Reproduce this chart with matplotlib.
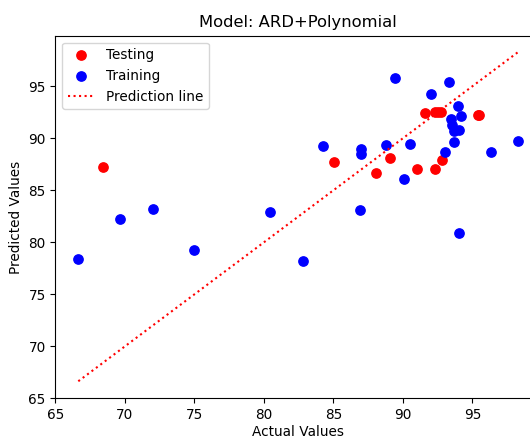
import matplotlib
matplotlib.use("Agg")
import matplotlib.pyplot as plt

# testing set (red)
test_actual = [68.44, 85.01, 88.07, 89.05, 91.02, 91.57, 92.30, 92.50, 92.70, 92.28, 92.80, 95.40, 95.48]
test_pred = [87.23, 87.68, 86.66, 88.10, 87.05, 92.40, 92.49, 92.49, 92.49, 87.05, 87.90, 92.24, 92.24]

# training set (blue)
train_actual = [66.64, 69.65, 72.00, 75.00, 80.40, 82.82, 84.22, 86.99, 86.99, 86.89,
                88.81, 89.41, 90.04, 90.54, 92.03, 92.99, 93.30, 93.95, 94.21, 93.42,
                93.54, 93.66, 94.02, 93.66, 94.02, 96.35, 98.27]
train_pred = [78.41, 82.19, 83.22, 79.27, 82.93, 78.22, 89.22, 88.93, 88.50, 83.06,
              89.31, 95.80, 86.08, 89.48, 94.24, 88.66, 95.44, 93.07, 92.14, 91.85,
              91.30, 90.66, 90.82, 89.64, 80.88, 88.64, 89.70]

x_ticks = [65, 70, 75, 80, 85, 90, 95]
y_ticks = [65, 70, 75, 80, 85, 90, 95]

plt.rcParams['font.size'] = 9.8

fig = plt.figure(figsize=(5.3, 4.41), dpi=100)
ax = fig.add_axes([0.1047, 0.0968, 0.914, 0.8222])

ax.scatter(test_actual, test_pred, color='red', s=45, label='Testing')
ax.scatter(train_actual, train_pred, color='blue', s=45, label='Training')

all_actual = test_actual + train_actual
lo, hi = min(all_actual), max(all_actual)
ax.plot([lo, hi], [lo, hi], color='red', linestyle=':', linewidth=1.5, label='Prediction line')

ax.set_xticks(x_ticks)
ax.set_yticks(y_ticks)
ax.set_xlabel('Actual Values', labelpad=2)
ax.set_ylabel('Predicted Values')
ax.set_title('Model: ARD+Polynomial', fontsize=11.8)
ax.legend(loc='upper left')

fig.savefig('out.png', dpi=100)
